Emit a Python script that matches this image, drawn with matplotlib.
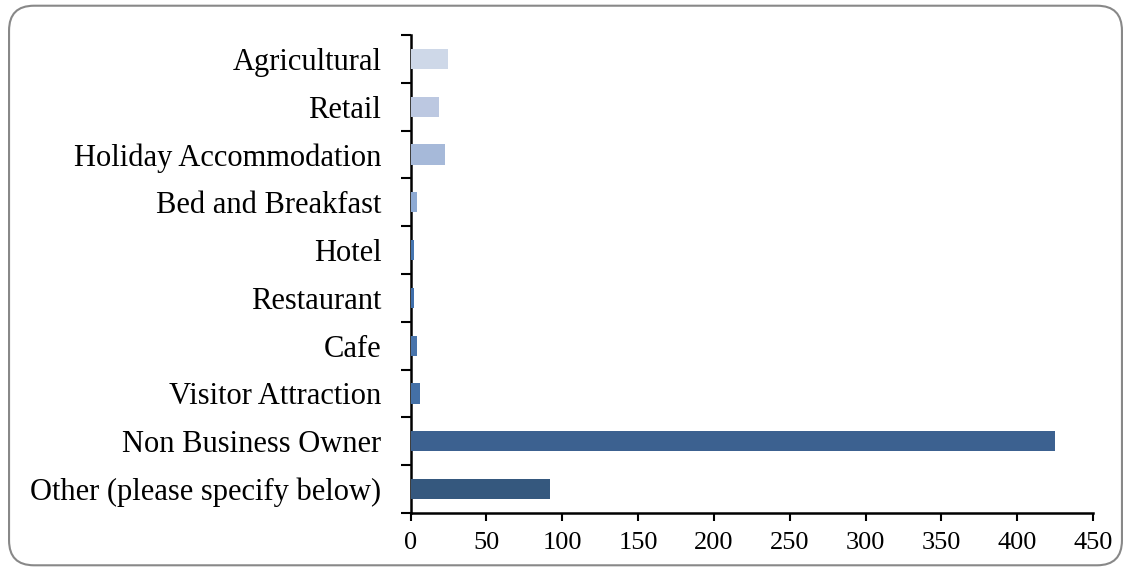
import numpy as np
import matplotlib
matplotlib.use('Agg')
import matplotlib.pyplot as plt
from matplotlib.patches import FancyBboxPatch

# bottom to top
categories = ['Other (please specify below)', 'Non Business Owner', 'Visitor Attraction',
              'Cafe', 'Restaurant', 'Hotel', 'Bed and Breakfast',
              'Holiday Accommodation', 'Retail', 'Agricultural']
values = [92, 425, 6, 4, 2, 2, 4, 23, 19, 25]
colors = ['#35587e', '#3c6190', '#4470a6', '#4874ab', '#3f6fab', '#4575b0',
          '#8eaad3', '#a6b9d9', '#bcc8e1', '#ced8e8']

plt.rcParams['font.family'] = ['Liberation Serif', 'DejaVu Serif']

fig = plt.figure(figsize=(11.31, 5.71), dpi=100)
ax = fig.add_axes([0.363, 0.1016, 0.6034, 0.8371])

y = np.arange(len(categories))
ax.barh(y, values, height=0.42, color=colors, zorder=1)

ax.set_xlim(0, 450)
ax.set_ylim(-0.5, len(categories) - 0.5)
ax.set_xticks(np.arange(0, 451, 50))
ax.set_yticks(np.arange(-0.5, len(categories), 1.0))
ax.set_yticklabels([])
ax.set_yticks(y, minor=True)
ax.set_yticklabels(categories, minor=True, fontsize=22)
ax.tick_params(axis='y', which='minor', length=0, pad=21)
ax.tick_params(axis='y', which='major', length=7, width=1.5, direction='out')
ax.tick_params(axis='x', length=6, width=1.5, direction='out', labelsize=19, pad=8)

for s in ['top', 'right']:
    ax.spines[s].set_visible(False)
for s in ['left', 'bottom']:
    ax.spines[s].set_linewidth(1.8)
    ax.spines[s].set_zorder(0.5)

# rounded outer frame
frame = FancyBboxPatch((0.008, 0.01), 0.984, 0.98,
                       boxstyle='round,pad=0,rounding_size=0.022',
                       transform=fig.transFigure, fill=False,
                       edgecolor='#888888', linewidth=1.5,
                       mutation_aspect=1131 / 571)
fig.patches.append(frame)

fig.savefig('out.png', dpi=100)
